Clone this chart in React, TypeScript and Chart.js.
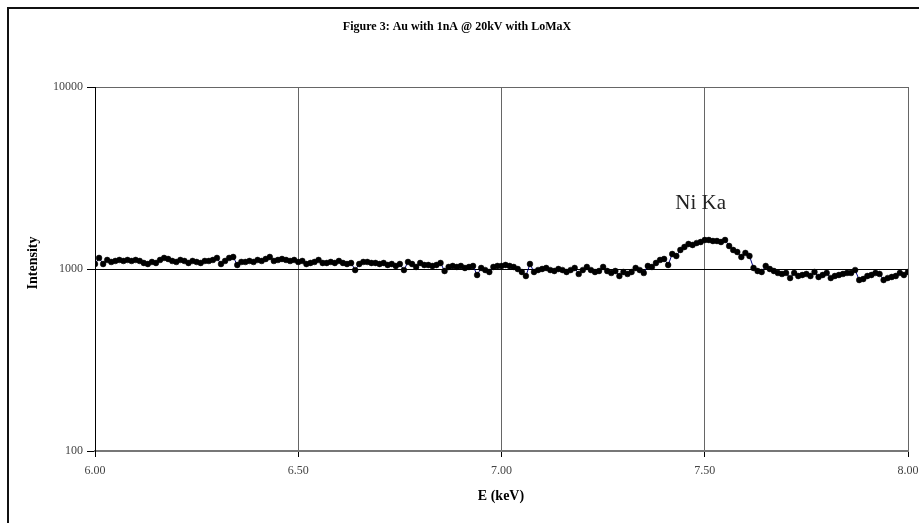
import React, { useEffect, useRef } from "react";
import { Chart, registerables } from "chart.js";

Chart.register(...registerables);

const TITLE = "Figure 3: Au with 1nA @ 20kV with LoMaX";
const X_TITLE = "E (keV)";
const Y_TITLE = "Intensity";
const PEAK_LABEL = "Ni Ka";
const PEAK_LABEL_E = 7.49;
const PEAK_LABEL_I = 2300;

const X_TICKS = [6.0, 6.5, 7.0, 7.5, 8.0];
const Y_TICKS = [100, 1000, 10000];

const ENERGY = [
  6.00, 6.01, 6.02, 6.03, 6.04, 6.05, 6.06, 6.07, 6.08, 6.09,
  6.10, 6.11, 6.12, 6.13, 6.14, 6.15, 6.16, 6.17, 6.18, 6.19,
  6.20, 6.21, 6.22, 6.23, 6.24, 6.25, 6.26, 6.27, 6.28, 6.29,
  6.30, 6.31, 6.32, 6.33, 6.34, 6.35, 6.36, 6.37, 6.38, 6.39,
  6.40, 6.41, 6.42, 6.43, 6.44, 6.45, 6.46, 6.47, 6.48, 6.49,
  6.50, 6.51, 6.52, 6.53, 6.54, 6.55, 6.56, 6.57, 6.58, 6.59,
  6.60, 6.61, 6.62, 6.63, 6.64, 6.65, 6.66, 6.67, 6.68, 6.69,
  6.70, 6.71, 6.72, 6.73, 6.74, 6.75, 6.76, 6.77, 6.78, 6.79,
  6.80, 6.81, 6.82, 6.83, 6.84, 6.85, 6.86, 6.87, 6.88, 6.89,
  6.90, 6.91, 6.92, 6.93, 6.94, 6.95, 6.96, 6.97, 6.98, 6.99,
  7.00, 7.01, 7.02, 7.03, 7.04, 7.05, 7.06, 7.07, 7.08, 7.09,
  7.10, 7.11, 7.12, 7.13, 7.14, 7.15, 7.16, 7.17, 7.18, 7.19,
  7.20, 7.21, 7.22, 7.23, 7.24, 7.25, 7.26, 7.27, 7.28, 7.29,
  7.30, 7.31, 7.32, 7.33, 7.34, 7.35, 7.36, 7.37, 7.38, 7.39,
  7.40, 7.41, 7.42, 7.43, 7.44, 7.45, 7.46, 7.47, 7.48, 7.49,
  7.50, 7.51, 7.52, 7.53, 7.54, 7.55, 7.56, 7.57, 7.58, 7.59,
  7.60, 7.61, 7.62, 7.63, 7.64, 7.65, 7.66, 7.67, 7.68, 7.69,
  7.70, 7.71, 7.72, 7.73, 7.74, 7.75, 7.76, 7.77, 7.78, 7.79,
  7.80, 7.81, 7.82, 7.83, 7.84, 7.85, 7.86, 7.87, 7.88, 7.89,
  7.90, 7.91, 7.92, 7.93, 7.94, 7.95, 7.96, 7.97, 7.98, 7.99,
  8.00,
];

const INTENSITY = [
  1065, 1150, 1065, 1121, 1093, 1107, 1121, 1107, 1121, 1107,
  1121, 1107, 1079, 1065, 1093, 1079, 1121, 1150, 1135, 1107,
  1093, 1121, 1107, 1079, 1107, 1093, 1079, 1107, 1107, 1121,
  1150, 1065, 1107, 1150, 1164, 1052, 1093, 1093, 1107, 1093,
  1121, 1107, 1135, 1164, 1107, 1121, 1135, 1121, 1107, 1121,
  1093, 1107, 1065, 1079, 1093, 1121, 1079, 1079, 1093, 1079,
  1107, 1079, 1065, 1079, 987, 1065, 1093, 1093, 1079, 1079,
  1065, 1079, 1052, 1065, 1039, 1065, 987, 1093, 1065, 1026,
  1079, 1052, 1052, 1039, 1052, 1079, 975, 1026, 1039, 1026,
  1039, 1013, 1026, 1039, 927, 1013, 987, 963, 1026, 1039,
  1039, 1052, 1039, 1026, 1000, 963, 915, 1065, 963, 987,
  1000, 1013, 987, 975, 1000, 987, 963, 987, 1013, 939,
  987, 1026, 987, 963, 975, 1026, 975, 951, 975, 915,
  963, 939, 963, 1013, 987, 951, 1039, 1026, 1079, 1121,
  1135, 1052, 1209, 1179, 1272, 1321, 1372, 1355, 1389, 1407,
  1443, 1443, 1425, 1425, 1407, 1443, 1338, 1272, 1240, 1164,
  1225, 1179, 1013, 975, 963, 1039, 1000, 975, 951, 939,
  951, 892, 951, 915, 927, 939, 915, 963, 904, 927,
  951, 892, 915, 927, 939, 951, 951, 987, 870, 881,
  915, 927, 951, 939, 870, 892, 904, 915, 951, 927,
  963,
];

const FONT = "'Liberation Serif', 'DejaVu Serif', serif";

const decorPlugin = {
  id: "decor",
  afterDraw(chart: any) {
    const { ctx } = chart;
    ctx.save();
    ctx.strokeStyle = "#111";
    ctx.lineWidth = 2;
    ctx.beginPath();
    ctx.moveTo(8, chart.height);
    ctx.lineTo(8, 8);
    ctx.lineTo(chart.width, 8);
    ctx.stroke();

    ctx.fillStyle = "#000";
    ctx.textAlign = "center";
    ctx.textBaseline = "middle";
    ctx.font = `bold 12px ${FONT}`;
    ctx.fillText(TITLE, 457, 27);

    ctx.font = `bold 14px ${FONT}`;
    ctx.fillText(X_TITLE, 501, 496);

    ctx.save();
    ctx.translate(33, 263);
    ctx.rotate(-Math.PI / 2);
    ctx.fillText(Y_TITLE, 0, 0);
    ctx.restore();

    const xs = chart.scales.x;
    const ys = chart.scales.y;
    ctx.font = `21px ${FONT}`;
    ctx.fillStyle = "#222";
    ctx.fillText(PEAK_LABEL, xs.getPixelForValue(PEAK_LABEL_E), ys.getPixelForValue(PEAK_LABEL_I));
    ctx.restore();
  },
};

export default function App() {
  const ref = useRef<HTMLCanvasElement | null>(null);

  useEffect(() => {
    if (!ref.current) return;
    const points = ENERGY.map((e, i) => ({ x: e, y: INTENSITY[i] }));
    const chart = new Chart(ref.current, {
      type: "line",
      data: {
        datasets: [
          {
            data: points,
            borderColor: "#000080",
            borderWidth: 1,
            pointRadius: 2.9,
            pointBackgroundColor: "#000",
            pointBorderColor: "#000",
            pointBorderWidth: 0.5,
            tension: 0,
          },
        ],
      },
      options: {
        animation: false,
        responsive: false,
        devicePixelRatio: 1,
        layout: { padding: { top: 87, left: 50, right: 11, bottom: 42 } },
        plugins: {
          legend: { display: false },
          title: { display: false },
          tooltip: { enabled: false },
        },
        scales: {
          x: {
            type: "linear",
            min: 6,
            max: 8,
            afterBuildTicks: (s: any) => {
              s.ticks = X_TICKS.map((v) => ({ value: v }));
            },
            afterFit: (s: any) => {
              s.height = 30;
              s.paddingLeft = 0;
              s.paddingRight = 0;
            },
            ticks: {
              callback: (v: any) => Number(v).toFixed(2),
              font: { family: FONT, size: 12 },
              color: "#444",
              padding: 7,
              maxRotation: 0,
            },
            grid: {
              color: "#666",
              lineWidth: 1,
              drawTicks: true,
              tickLength: 6,
              tickColor: "#000",
            },
            border: { color: "#777", width: 2 },
          },
          y: {
            type: "logarithmic",
            min: 100,
            max: 10000,
            afterBuildTicks: (s: any) => {
              s.ticks = Y_TICKS.map((v) => ({ value: v }));
            },
            afterFit: (s: any) => {
              s.width = 45;
              s.paddingTop = 0;
              s.paddingBottom = 0;
            },
            ticks: {
              callback: (v: any) => String(v),
              font: { family: FONT, size: 12 },
              color: "#444",
              padding: 4,
            },
            grid: {
              color: (c: any) => (c.tick && c.tick.value === 10000 ? "#666" : "#000"),
              lineWidth: 1,
              drawTicks: true,
              tickLength: 8,
              tickColor: "#000",
            },
            border: { color: "#000", width: 1 },
          },
        },
      },
      plugins: [decorPlugin],
    });
    return () => chart.destroy();
  }, []);

  return (
    <div style={{ position: "fixed", left: 0, top: 0, width: 919, height: 523, background: "#fff" }}>
      <canvas ref={ref} width={919} height={523} style={{ display: "block" }} />
    </div>
  );
}
